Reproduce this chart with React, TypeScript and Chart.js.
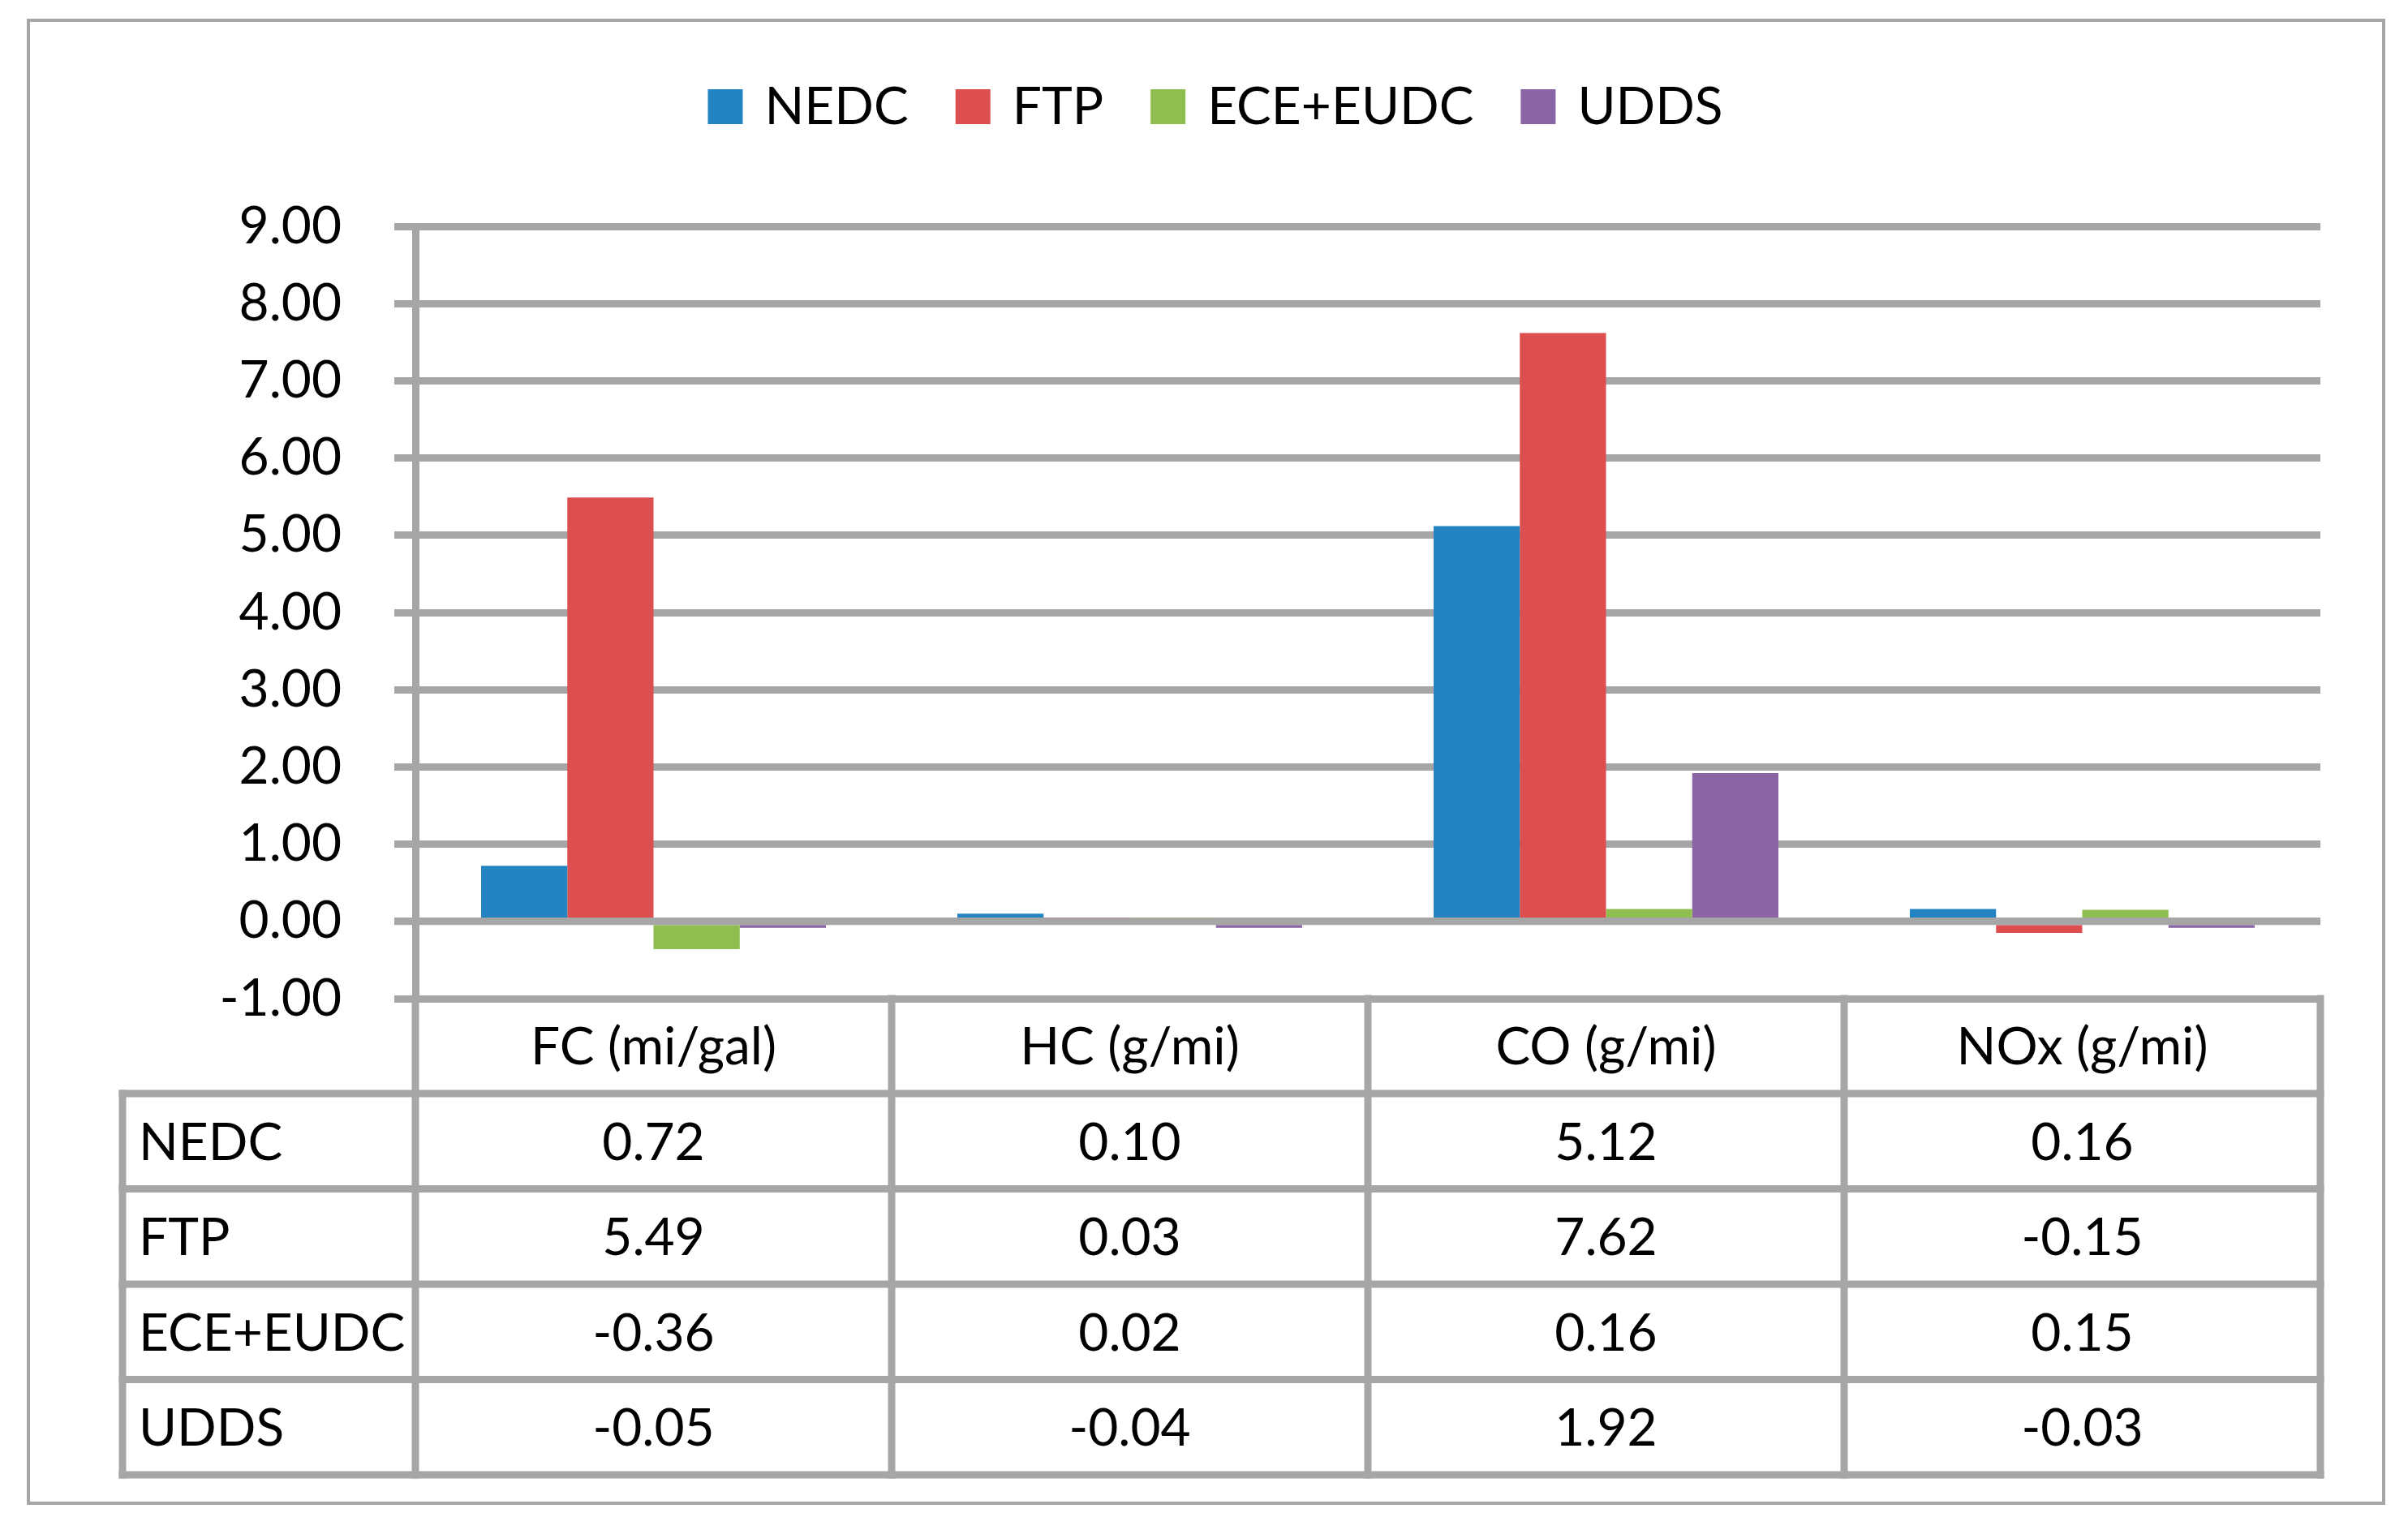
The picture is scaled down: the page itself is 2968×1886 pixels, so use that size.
import React, { useEffect, useRef } from 'react';
import { Chart, registerables } from 'chart.js';

Chart.register(...registerables);

// ---- data ----
const categories = ['FC (mi/gal)', 'HC (g/mi)', 'CO (g/mi)', 'NOx (g/mi)'];
const seriesNames = ['NEDC', 'FTP', 'ECE+EUDC', 'UDDS'];
const nedcValues = [0.72, 0.1, 5.12, 0.16];
const ftpValues = [5.49, 0.03, 7.62, -0.15];
const eceEudcValues = [-0.36, 0.02, 0.16, 0.15];
const uddsValues = [-0.05, -0.04, 1.92, -0.03];
const seriesColors = ['#2484c1', '#dd4f4f', '#8fbd4f', '#8a65a5'];
const yMin = -1;
const yMax = 9;
const yStep = 1;

const W = 2968;
const H = 1886;
const FAMILY = 'Lato, "Liberation Sans", sans-serif';
const FONT_SIZE = 64;
const GRAY = '#a6a6a6';

const drawLine = (ctx: CanvasRenderingContext2D, x1: number, y1: number, x2: number, y2: number) => {
  ctx.beginPath();
  ctx.moveTo(x1, y1);
  ctx.lineTo(x2, y2);
  ctx.stroke();
};

const overlayPlugin = {
  id: 'overlay',
  afterDatasetsDraw(chart: any) {
    const { ctx, chartArea, scales } = chart;
    const y0 = scales.y.getPixelForValue(0);
    ctx.save();
    ctx.strokeStyle = GRAY;
    ctx.lineWidth = 9;
    drawLine(ctx, chartArea.left - 26, y0, chartArea.right, y0);
    ctx.restore();
  },
  afterDraw(chart: any) {
    const { ctx, chartArea, scales } = chart;
    const xs = scales.x;
    const n = categories.length;
    const left = chartArea.left;
    const right = chartArea.right;
    const colW = (right - left) / n;
    const top = chartArea.bottom;
    const headerH = 117;
    const rowH = 117.5;
    const tableLeft = 151;
    const rowsTop = top + headerH;
    const datasets = chart.data.datasets;
    const nRows = datasets.length;
    const bottom = rowsTop + rowH * nRows;
    const capHalf = FONT_SIZE * 0.358;

    ctx.save();
    // table lines
    ctx.strokeStyle = GRAY;
    ctx.lineWidth = 9;
    ctx.lineCap = 'square';
    for (let k = 0; k <= n; k++) {
      const xk = left + k * colW;
      drawLine(ctx, xk, top, xk, bottom);
    }
    drawLine(ctx, tableLeft, rowsTop, tableLeft, bottom);
    for (let r = 0; r <= nRows; r++) {
      const yr = rowsTop + r * rowH;
      drawLine(ctx, tableLeft, yr, right, yr);
    }

    // table text
    ctx.fillStyle = '#000';
    ctx.font = `${FONT_SIZE}px ${FAMILY}`;
    ctx.textBaseline = 'alphabetic';
    ctx.textAlign = 'center';
    categories.forEach((c, i) => {
      ctx.fillText(c, xs.getPixelForValue(i), top + headerH / 2 + capHalf);
    });
    datasets.forEach((ds: any, r: number) => {
      const cy = rowsTop + rowH * r + rowH / 2 + capHalf;
      ctx.textAlign = 'left';
      ctx.fillText(ds.label, tableLeft + 20, cy);
      ctx.textAlign = 'center';
      ds.data.forEach((v: number, i: number) => {
        ctx.fillText(v.toFixed(2), xs.getPixelForValue(i), cy);
      });
    });

    // legend
    const box = 43;
    const gapText = 27;
    const gapItem = 58;
    const widths = datasets.map((ds: any) => ctx.measureText(ds.label).width);
    const total = widths.reduce((a: number, w: number) => a + box + gapText + w, 0) + gapItem * (datasets.length - 1);
    let lx = 1498 - total / 2;
    const baseY = 153;
    ctx.textAlign = 'left';
    datasets.forEach((ds: any, i: number) => {
      ctx.fillStyle = ds.backgroundColor;
      ctx.fillRect(lx, baseY - box, box, box);
      ctx.fillStyle = '#000';
      ctx.fillText(ds.label, lx + box + gapText, baseY);
      lx += box + gapText + widths[i] + gapItem;
    });

    // outer border
    ctx.strokeStyle = GRAY;
    ctx.lineWidth = 4;
    ctx.lineCap = 'butt';
    ctx.strokeRect(35, 25, 2903, 1828);
    ctx.restore();
  },
};

export default function App() {
  const canvasRef = useRef<HTMLCanvasElement | null>(null);

  useEffect(() => {
    const canvas = canvasRef.current;
    if (!canvas) return;
    const seriesData = [nedcValues, ftpValues, eceEudcValues, uddsValues];
    const chart = new Chart(canvas, {
      type: 'bar',
      data: {
        labels: categories,
        datasets: seriesNames.map((name, i) => ({
          label: name,
          data: seriesData[i],
          backgroundColor: seriesColors[i],
          borderWidth: 0,
          categoryPercentage: 0.724,
          barPercentage: 1,
          minBarLength: i === 3 ? 8 : 0,
        })),
      },
      options: {
        responsive: false,
        animation: false,
        devicePixelRatio: 1,
        layout: { padding: { left: 0, top: 279, right: W - 2860, bottom: H - 1231 } },
        plugins: {
          legend: { display: false },
          tooltip: { enabled: false },
        },
        scales: {
          x: {
            display: false,
            grid: { display: false },
          },
          y: {
            min: yMin,
            max: yMax,
            ticks: {
              stepSize: yStep,
              color: '#000',
              padding: 65,
              font: { family: FAMILY, size: FONT_SIZE },
              callback: (v: any) => Number(v).toFixed(2),
            },
            grid: { color: GRAY, lineWidth: 9, tickLength: 26, drawTicks: true },
            border: { display: true, color: GRAY, width: 9 },
            afterFit: (s: any) => {
              s.width = 512;
            },
          },
        },
      },
      plugins: [overlayPlugin],
    } as any);
    return () => chart.destroy();
  }, []);

  return (
    <div style={{ position: 'absolute', left: 0, top: 0, width: W, height: H, background: '#fff' }}>
      <canvas ref={canvasRef} width={W} height={H} style={{ display: 'block', width: W, height: H }} />
    </div>
  );
}
